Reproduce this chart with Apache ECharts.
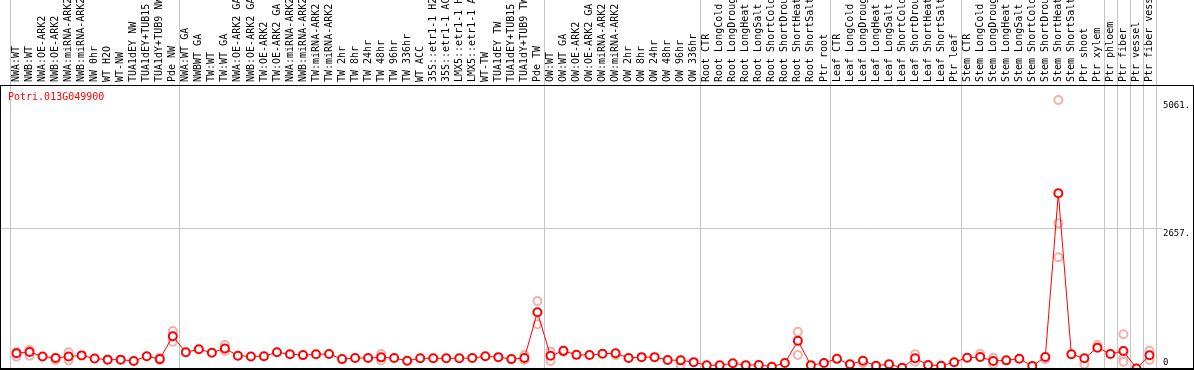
<!DOCTYPE html>
<html><head><meta charset="utf-8">
<script src="https://cdn.jsdelivr.net/npm/echarts@6/dist/echarts.min.js"></script>
<style>html,body{margin:0;padding:0;background:#fff;overflow:hidden}#c{width:1194px;height:370px}</style>
</head><body><div id="c"></div>
<script>
const geneName = 'Potri.013G049900';
const categories = [
 'NWA:WT','NWB:WT','NWA:OE-ARK2','NWB:OE-ARK2','NWA:miRNA-ARK2','NWB:miRNA-ARK2','NW 0hr','WT H2O','WT-NW','TUA1dEY NW','TUA1dEY+TUB15','TUA1dY+TUB9 NW','Pde NW',
 'NWA:WT GA','NWBWT GA','TW:WT','TW:WT GA','NWA:OE-ARK2 GA','NWB:OE-ARK2 GA','TW:OE-ARK2','TW:OE-ARK2 GA','NWA:miRNA-ARK2','NWB:miRNA-ARK2','TW:miRNA-ARK2','TW:miRNA-ARK2',
 'TW 2hr','TW 8hr','TW 24hr','TW 48hr','TW 96hr','TW 336hr','WT ACC','35S::etr1-1 H2O','35S::etr1-1 ACC','LMX5::etr1-1 H2O','LMX5::etr1-1 ACC','WT-TW','TUA1dEY TW','TUA1dEY+TUB15','TUA1dY+TUB9 TW','Pde TW',
 'OW:WT','OW:WT GA','OW:OE-ARK2','OW:OE-ARK2 GA','OW:miRNA-ARK2','OW:miRNA-ARK2','OW 2hr','OW 8hr','OW 24hr','OW 48hr','OW 96hr','OW 336hr',
 'Root CTR','Root LongCold','Root LongDrought','Root LongHeat','Root LongSalt','Root ShortCold','Root ShortDrought','Root ShortHeat','Root ShortSalt','Ptr root',
 'Leaf CTR','Leaf LongCold','Leaf LongDrought','Leaf LongHeat','Leaf LongSalt','Leaf ShortCold','Leaf ShortDrought','Leaf ShortHeat','Leaf ShortSalt','Ptr leaf',
 'Stem CTR','Stem LongCold','Stem LongDrought','Stem LongHeat','Stem LongSalt','Stem ShortCold','Stem ShortDrought','Stem ShortHeat','Stem ShortSalt','Ptr shoot',
 'Ptr xylem','Ptr phloem','Ptr fiber','Ptr vessel','Ptr fiber vessel'
];
const meanValues = [
 304,330,245,215,245,265,205,185,185,160,250,195,625,
 323,379,316,395,259,245,250,323,288,270,285,292,195,215,215,228,215,163,210,210,210,210,215,248,232,195,215,1074,
 257,350,275,272,295,306,216,232,232,178,172,138,
 79,79,118,82,85,53,122,538,82,122,
 200,100,163,72,100,34,210,85,71,135,
 222,235,160,172,203,66,235,3309,288,210,
 410,291,347,18,267
];
const repIndex = [0,0,1,1,3,4,4,11,11,12,12,16,16,28,28,39,39,40,40,41,41,42,46,51,60,60,65,69,69,74,75,75,79,80,80,80,82,83,85,85,85,87,87];
const repValues = [240,330,366,259,178,323,172,222,180,723,522,460,350,290,170,270,178,1286,849,340,160,330,270,85,710,272,120,285,147,297,222,98,197,5061,2745,2107,98,460,661,210,147,353,178];
const groupStarts = [0,13,41,53,63,73,84,85,86,87];
const yTickValues = [0,2657,5061];
const yMax = 5342;

const MONO = '"DejaVu Sans Mono", "Liberation Mono", monospace';
const chart = echarts.init(document.getElementById('c'), null, {renderer:'canvas'});
const repData = repIndex.map((k,i)=>[k, repValues[i]]);

chart.setOption({
  animation:false,
  backgroundColor:'#fff',
  grid:{left:10, right:38, top:85, bottom:0.5, containLabel:false, outerBoundsMode:'none'},
  xAxis:{type:'category', position:'top', data:categories, boundaryGap:true,
    axisLine:{show:false}, axisTick:{show:false}, splitLine:{show:false},
    axisLabel:{interval:0, rotate:90, margin:3, fontSize:10, fontFamily:MONO, color:'#000', hideOverlap:false}},
  yAxis:{type:'value', min:0, max:yMax, position:'right',
    axisLine:{show:false}, axisTick:{show:false}, splitLine:{show:false}, axisLabel:{show:false}},
  series:[
    {type:'scatter', data:repData, symbol:'emptyCircle', symbolSize:8, z:2,
     itemStyle:{color:'#f29a9a', borderWidth:1.2}},
    {type:'line', data:meanValues, symbol:'emptyCircle', symbolSize:8, z:3, showSymbol:true, showAllSymbol:true,
     lineStyle:{color:'#ff0000', width:1},
     itemStyle:{color:'#ff0000', borderWidth:1.4}}
  ]
});

const g = [];
const cx = i => chart.convertToPixel({xAxisIndex:0}, i);
const band = cx(1) - cx(0);
const seps = groupStarts.map(i => cx(i) - band/2).concat([cx(categories.length-1) + band/2]);
seps.forEach(x => {
  const xx = Math.round(x) + 0.5;
  g.push({type:'line', z:1, shape:{x1:xx, y1:0, x2:xx, y2:369}, style:{stroke:'#c4c4c4', lineWidth:1}});
});
const yMid = Math.round(chart.convertToPixel({yAxisIndex:0}, yTickValues[1])) + 0.5;
g.push({type:'line', z:1, shape:{x1:0, y1:yMid, x2:1162, y2:yMid}, style:{stroke:'#c4c4c4', lineWidth:1}});
g.push({type:'line', z:10, shape:{x1:0, y1:85.5, x2:1194, y2:85.5}, style:{stroke:'#000', lineWidth:1}});
g.push({type:'line', z:10, shape:{x1:0.5, y1:85, x2:0.5, y2:370}, style:{stroke:'#000', lineWidth:1}});
g.push({type:'line', z:10, shape:{x1:1193.5, y1:85, x2:1193.5, y2:370}, style:{stroke:'#000', lineWidth:1}});
g.push({type:'line', z:10, shape:{x1:0, y1:369, x2:1194, y2:369}, style:{stroke:'#000', lineWidth:2}});
yTickValues.forEach(v => {
  const y = chart.convertToPixel({yAxisIndex:0}, v);
  const txt = v === 0 ? '0' : v + '.';
  g.push({type:'text', z:10, x:1163, y: v === 0 ? y - 2 : y + 1,
    style:{text:txt, font:'9px ' + MONO, fill:'#000', verticalAlign: v === 0 ? 'bottom' : 'top', align:'left'}});
});
g.push({type:'text', z:10, x:8, y:92, style:{text:geneName, font:'10px ' + MONO, fill:'#ff0000', verticalAlign:'top'}});
chart.setOption({graphic:g});
</script>
</body></html>
